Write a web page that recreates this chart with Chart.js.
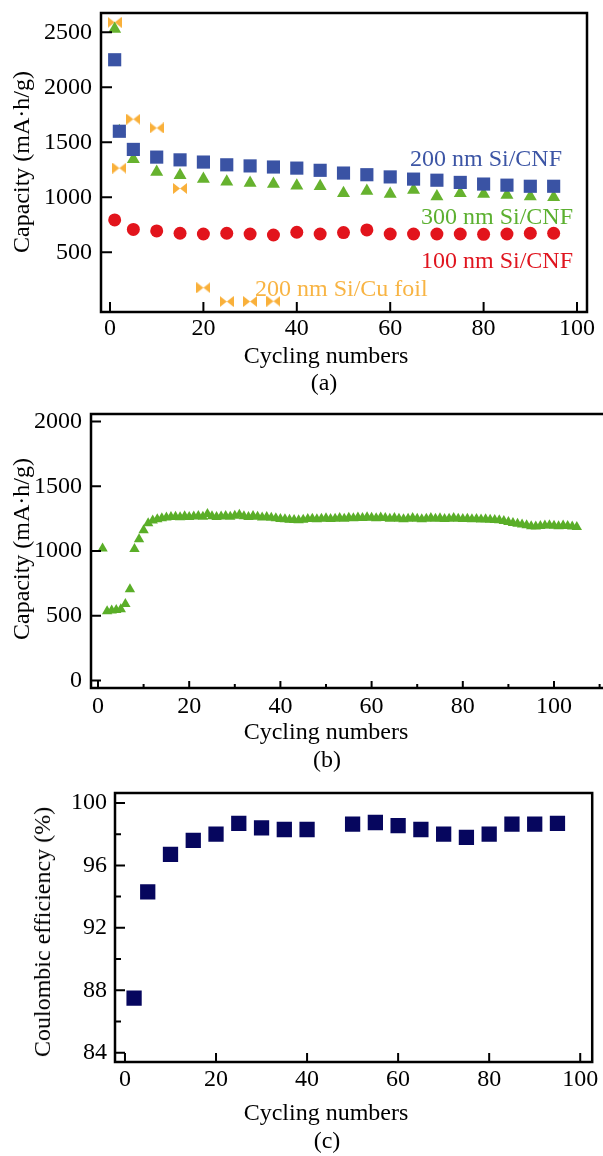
<!DOCTYPE html>
<html>
<head>
<meta charset="utf-8">
<script src="https://cdn.jsdelivr.net/npm/chart.js@4.4.0/dist/chart.umd.min.js"></script>
<style>
  body { margin: 0; background: #fff; }
  #page { position: relative; width: 603px; height: 1156px; overflow: hidden; font-family: 'Liberation Serif', 'Times New Roman', serif; color: #000; }
  canvas { position: absolute; left: 0; }
  .t { position: absolute; font-size: 24px; line-height: 1; white-space: nowrap; transform: translate(-50%, -50%); }
  .rot { transform: translate(-50%, -50%) rotate(-90deg); }
  .lft { transform: translateY(-50%); }
</style>
</head>
<body>
<div id="page">
  <canvas id="chartA" width="603" height="345" style="top:0px"></canvas>
  <canvas id="chartB" width="640" height="340" style="top:380px"></canvas>
  <canvas id="chartC" width="603" height="330" style="top:770px"></canvas>

  <div class="t lft" style="left:410px;top:158px;color:#3c55a5">200 nm Si/CNF</div>
  <div class="t lft" style="left:421px;top:216px;color:#5cb030">300 nm Si/CNF</div>
  <div class="t lft" style="left:421px;top:260px;color:#e0151f">100 nm Si/CNF</div>
  <div class="t lft" style="left:255px;top:288px;color:#f8b443">200 nm Si/Cu foil</div>

  <div class="t rot" style="left:21px;top:162px">Capacity (mA·h/g)</div>
  <div class="t" style="left:326px;top:355px">Cycling numbers</div>
  <div class="t" style="left:324px;top:382px">(a)</div>

  <div class="t rot" style="left:21px;top:549px">Capacity (mA·h/g)</div>
  <div class="t" style="left:326px;top:731px">Cycling numbers</div>
  <div class="t" style="left:327px;top:759px">(b)</div>

  <div class="t rot" style="left:42px;top:932px">Coulombic efficiency (%)</div>
  <div class="t" style="left:326px;top:1112px">Cycling numbers</div>
  <div class="t" style="left:327px;top:1140px">(c)</div>
</div>

<script>
// (a) capacity vs cycle number for the four electrodes
const cyclesA = [1, 2, 5, 10, 15, 20, 25, 30, 35, 40, 45, 50, 55, 60, 65, 70, 75, 80, 85, 90, 95];
const cap200CNF = [2250, 1600, 1435, 1365, 1340, 1320, 1295, 1285, 1275, 1265, 1245, 1220, 1205, 1185, 1165, 1155, 1135, 1120, 1110, 1100, 1100];
const cap300CNF = [2530, 1600, 1345, 1230, 1200, 1165, 1140, 1130, 1120, 1105, 1100, 1036, 1057, 1030, 1066, 1006, 1036, 1030, 1021, 1006, 1000];
const cycles100 = [1, 5, 10, 15, 20, 25, 30, 35, 40, 45, 50, 55, 60, 65, 70, 75, 80, 85, 90, 95];
const cap100CNF = [794, 708, 694, 673, 666, 673, 666, 657, 682, 666, 679, 703, 666, 666, 666, 666, 663, 666, 673, 673];
const cyclesCu = [1, 2, 5, 10, 15, 20, 25, 30, 35];
const capCuFoil = [2590, 1265, 1710, 1630, 1080, 178, 52, 52, 55];
const xTicksA = [0, 20, 40, 60, 80, 100];
const yTicksA = [500, 1000, 1500, 2000, 2500];

// (b) long cycling of one electrode, one value per cycle starting at cycle 1
const capLong = [
  1020, 535, 540, 545, 550, 590, 705, 1015, 1090, 1160,
  1215, 1235, 1245, 1252, 1258, 1262, 1265, 1260, 1268, 1262,
  1266, 1270, 1265, 1285, 1268, 1262, 1266, 1270, 1264, 1272,
  1280, 1268, 1262, 1270, 1265, 1258, 1262, 1256, 1252, 1248,
  1245, 1242, 1240, 1238, 1242, 1248, 1250, 1246, 1250, 1252,
  1248, 1250, 1254, 1250, 1256, 1252, 1258, 1254, 1260, 1256,
  1252, 1258, 1254, 1250, 1254, 1250, 1246, 1250, 1254, 1250,
  1246, 1250, 1254, 1250, 1252, 1248, 1250, 1254, 1250, 1248,
  1250, 1246, 1248, 1244, 1246, 1242, 1240, 1238, 1232, 1224,
  1216, 1210, 1205, 1198, 1192, 1190, 1194, 1196, 1198, 1195,
  1192, 1196, 1194, 1190, 1185
];
const xTicksB = [0, 20, 40, 60, 80, 100];
const xMinorB = [10, 30, 50, 70, 90, 110];
const yTicksB = [0, 500, 1000, 1500, 2000];

// (c) coulombic efficiency
const cyclesC = [2, 5, 10, 15, 20, 25, 30, 35, 40, 50, 55, 60, 65, 70, 75, 80, 85, 90, 95];
const effC = [87.5, 94.3, 96.7, 97.6, 98.0, 98.7, 98.4, 98.3, 98.3, 98.65, 98.75, 98.55, 98.3, 98.0, 97.8, 98.0, 98.65, 98.65, 98.7];
const xTicksC = [0, 20, 40, 60, 80, 100];
const yTicksC = [84, 88, 92, 96, 100];
const yMinorC = [86, 90, 94, 98];

const FONT = { family: "'Liberation Serif', 'Times New Roman', serif", size: 24 };

function toPoints(xs, ys) {
  return ys.map((v, i) => ({ x: xs[i], y: v }));
}

// bow-tie marker for the Cu foil series
function bowtie(color) {
  const c = document.createElement('canvas');
  c.width = 14; c.height = 11;
  const g = c.getContext('2d');
  g.fillStyle = color;
  g.beginPath();
  g.moveTo(0, 0); g.lineTo(7, 5.5); g.lineTo(0, 11); g.closePath();
  g.moveTo(14, 0); g.lineTo(7, 5.5); g.lineTo(14, 11); g.closePath();
  g.fill();
  return c;
}

// frame box plus inward ticks
const frameTicks = {
  id: 'frameTicks',
  afterDraw(chart, args, opts) {
    const { ctx, chartArea: a } = chart;
    const xs = chart.scales.x, ys = chart.scales.y;
    ctx.save();
    ctx.strokeStyle = '#000';
    ctx.lineWidth = 2;
    ctx.beginPath();
    xs.ticks.forEach(t => {
      const p = xs.getPixelForValue(t.value);
      ctx.moveTo(p, a.bottom); ctx.lineTo(p, a.bottom - opts.x);
    });
    ys.ticks.forEach(t => {
      const p = ys.getPixelForValue(t.value);
      ctx.moveTo(a.left, p); ctx.lineTo(a.left + opts.y, p);
    });
    (opts.xMinor || []).forEach(v => {
      const p = xs.getPixelForValue(v);
      ctx.moveTo(p, a.bottom); ctx.lineTo(p, a.bottom - opts.xMinorLen);
    });
    (opts.yMinor || []).forEach(v => {
      const p = ys.getPixelForValue(v);
      ctx.moveTo(a.left, p); ctx.lineTo(a.left + opts.yMinorLen, p);
    });
    ctx.stroke();
    ctx.lineWidth = 2.5;
    ctx.strokeRect(a.left, a.top, a.right - a.left, a.bottom - a.top);
    ctx.restore();
  }
};

function makeOptions(c) {
  return {
    responsive: false,
    animation: false,
    events: [],
    layout: { padding: { top: c.top, right: c.right, left: 0, bottom: 0 } },
    plugins: {
      legend: { display: false },
      tooltip: { enabled: false },
      frameTicks: c.ticks
    },
    scales: {
      x: {
        type: 'linear',
        min: c.xMin, max: c.xMax,
        grid: { display: false, drawTicks: false },
        border: { display: false },
        ticks: { autoSkip: false, maxRotation: 0, padding: c.xPad, color: '#000', font: FONT, callback: v => String(v) },
        afterBuildTicks(s) { s.ticks = c.xTicks.map(v => ({ value: v })); },
        afterFit(s) { s.height = c.xHeight; s.paddingLeft = 0; s.paddingRight = 0; }
      },
      y: {
        type: 'linear',
        min: c.yMin, max: c.yMax,
        grid: { display: false, drawTicks: false },
        border: { display: false },
        ticks: { autoSkip: false, padding: c.yPad, color: '#000', font: FONT, callback: v => String(v) },
        afterBuildTicks(s) { s.ticks = c.yTicks.map(v => ({ value: v })); },
        afterFit(s) { s.width = c.yWidth; s.paddingTop = 0; s.paddingBottom = 0; }
      }
    }
  };
}

function series(data, color, style, radius) {
  return {
    data: data,
    showLine: false,
    pointStyle: style,
    pointRadius: radius,
    pointBackgroundColor: color,
    pointBorderColor: color,
    pointBorderWidth: 0
  };
}

new Chart(document.getElementById('chartA'), {
  type: 'scatter',
  data: {
    datasets: [
      series(toPoints(cycles100, cap100CNF), '#e2141c', 'circle', 6.5),
      series(toPoints(cyclesA, cap200CNF), '#3a53a4', 'rect', 9.3),
      series(toPoints(cyclesA, cap300CNF), '#66b22e', 'triangle', 7.5),
      series(toPoints(cyclesCu, capCuFoil), '#f9b03a', bowtie('#f9b03a'), 7)
    ]
  },
  options: makeOptions({
    top: 13, right: 16, xHeight: 33, yWidth: 101,
    xMin: -1.927, xMax: 102.14, xTicks: xTicksA, xPad: 2,
    yMin: -43, yMax: 2675, yTicks: yTicksA, yPad: 9,
    ticks: { x: 10, y: 11 }
  }),
  plugins: [frameTicks]
});

new Chart(document.getElementById('chartB'), {
  type: 'scatter',
  data: {
    datasets: [
      series(toPoints(capLong.map((v, i) => i + 1), capLong), '#5aae28', 'triangle', 6)
    ]
  },
  options: makeOptions({
    top: 34, right: 31, xHeight: 32, yWidth: 91,
    xMin: -1.535, xMax: 112.06, xTicks: xTicksB, xPad: 4,
    yMin: -58, yMax: 2058, yTicks: yTicksB, yPad: 9,
    ticks: { x: 7, y: 10, xMinor: xMinorB, xMinorLen: 4 }
  }),
  plugins: [frameTicks]
});

new Chart(document.getElementById('chartC'), {
  type: 'scatter',
  data: {
    datasets: [
      series(toPoints(cyclesC, effC), '#06065e', 'rect', 10.8)
    ]
  },
  options: makeOptions({
    top: 23, right: 10, xHeight: 38, yWidth: 115,
    xMin: -2.19, xMax: 102.63, xTicks: xTicksC, xPad: 3,
    yMin: 83.4, yMax: 100.64, yTicks: yTicksC, yPad: 8,
    ticks: { x: 9, y: 10, yMinor: yMinorC, yMinorLen: 6 }
  }),
  plugins: [frameTicks]
});
</script>
</body>
</html>
